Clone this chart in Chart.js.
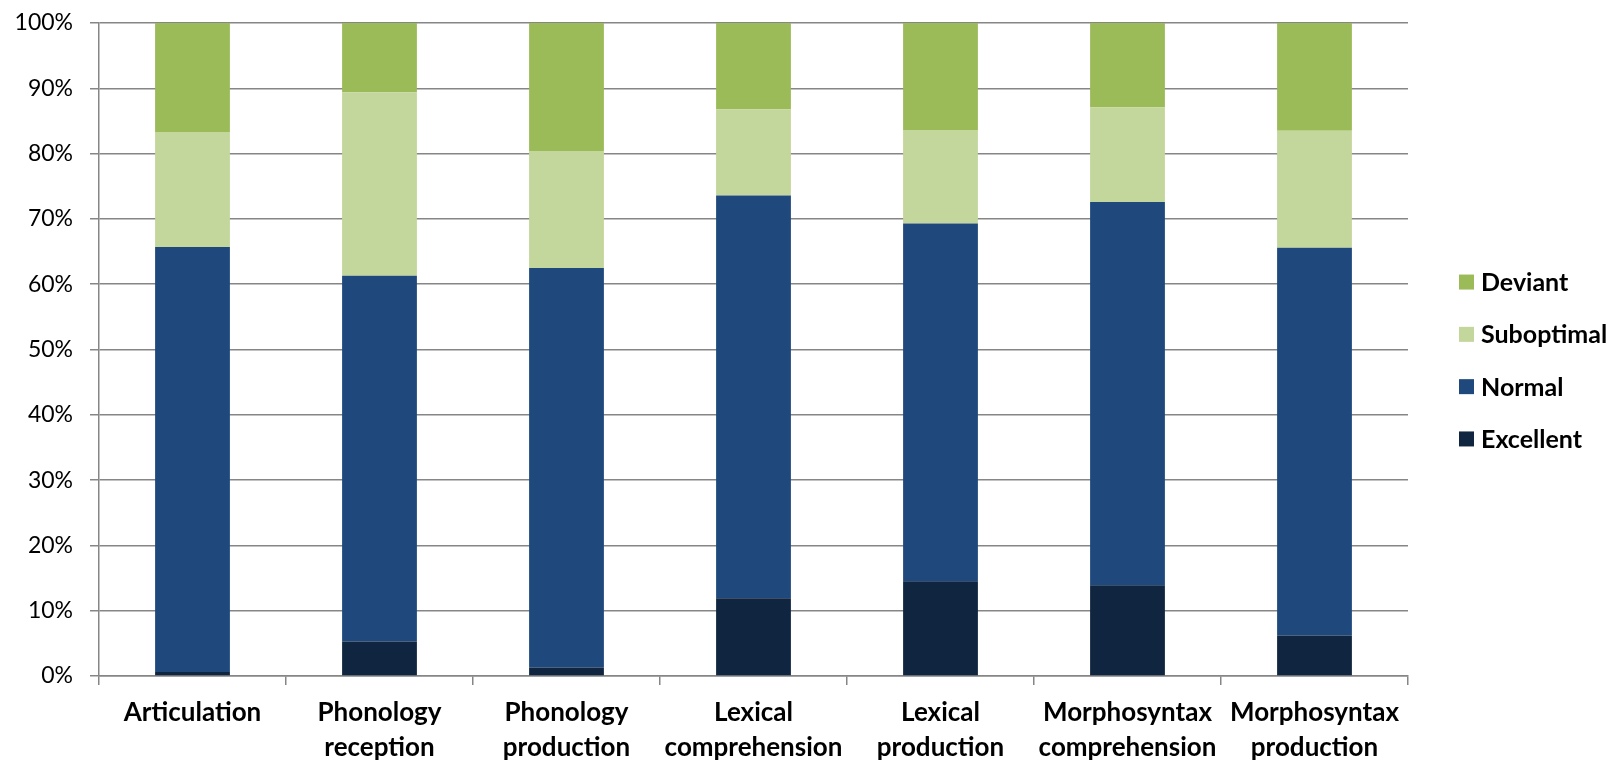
<!DOCTYPE html>
<html>
<head>
<meta charset="utf-8">
<script src="https://cdn.jsdelivr.net/npm/chart.js@4.4.1/dist/chart.umd.min.js"></script>
<style>
  html, body { margin: 0; padding: 0; background: #fff; }
  #wrap { width: 1612px; height: 760px; }
</style>
</head>
<body>
<div id="wrap"><canvas id="myChart" width="1612" height="760"></canvas></div>
<script>
// language domains (two-line labels)
var domains = [
    ["Articulation"],
    ["Phonology", "reception"],
    ["Phonology", "production"],
    ["Lexical", "comprehension"],
    ["Lexical", "production"],
    ["Morphosyntax", "comprehension"],
    ["Morphosyntax", "production"]
];

// share of children per rating, in percent
var excellent  = [0.6, 5.3, 1.3, 11.9, 14.5, 13.9, 6.2];
var normal     = [65.1, 56.0, 61.2, 61.7, 54.8, 58.7, 59.4];
var suboptimal = [17.6, 28.1, 17.9, 13.2, 14.3, 14.5, 17.9];
var deviant    = [16.7, 10.6, 19.6, 13.2, 16.4, 12.9, 16.5];

var yTicks = [0, 10, 20, 30, 40, 50, 60, 70, 80, 90, 100];

var gridColor = '#868686';

// legend on the right, top to bottom: Deviant .. Excellent
var sideLegend = {
    id: 'sideLegend',
    afterDraw: function(chart) {
        var c = chart.ctx;
        var area = chart.chartArea;
        var sets = chart.data.datasets.slice().reverse();
        var step = 52.3;
        var y0 = (area.top + area.bottom) / 2 + 11 - step * (sets.length - 1) / 2;
        c.save();
        c.font = 'bold 25px Lato';
        c.textBaseline = 'middle';
        c.textAlign = 'left';
        sets.forEach(function(ds, i) {
            var y = y0 + i * step;
            c.fillStyle = ds.backgroundColor;
            c.fillRect(area.right + 51, y - 7.5, 15, 15);
            c.fillStyle = '#000';
            c.fillText(ds.label, area.right + 73, y + 1);
        });
        c.restore();
    }
};

var ctx = document.getElementById("myChart").getContext('2d');
var chart = new Chart(ctx, {
    type: 'bar',
    data: {
        labels: domains,
        datasets: [
            { label: 'Excellent',  data: excellent,  backgroundColor: '#10253f' },
            { label: 'Normal',     data: normal,     backgroundColor: '#1f497d' },
            { label: 'Suboptimal', data: suboptimal, backgroundColor: '#c3d69b' },
            { label: 'Deviant',    data: deviant,    backgroundColor: '#9bbb59' }
        ]
    },
    options: {
        responsive: false,
        animation: false,
        layout: { padding: { top: 23, right: 204, bottom: 0, left: 0 } },
        plugins: {
            legend: { display: false },
            tooltip: { enabled: false }
        },
        datasets: {
            bar: { categoryPercentage: 1.0, barPercentage: 0.4 }
        },
        scales: {
            x: {
                stacked: true,
                afterFit: function(scale) {
                    scale.height = 84;
                    scale.paddingLeft = 0;
                    scale.paddingRight = 0;
                },
                border: { color: gridColor, width: 1.5 },
                grid: {
                    offset: true,
                    drawOnChartArea: false,
                    drawTicks: true,
                    tickLength: 9,
                    color: gridColor,
                    lineWidth: 1.5
                },
                ticks: {
                    color: '#000',
                    padding: 10,
                    maxRotation: 0,
                    autoSkip: false,
                    font: { family: 'Lato', size: 26, weight: 'bold', lineHeight: 1.35 }
                }
            },
            y: {
                stacked: true,
                min: 0,
                max: 100,
                afterFit: function(scale) {
                    scale.width = 99;
                    scale.paddingTop = 0;
                    scale.paddingBottom = 0;
                },
                afterBuildTicks: function(scale) {
                    scale.ticks = yTicks.map(function(v) { return { value: v }; });
                },
                border: { color: gridColor, width: 1.5 },
                grid: {
                    color: gridColor,
                    lineWidth: 1.5,
                    drawTicks: true,
                    tickLength: 9
                },
                ticks: {
                    color: '#000',
                    padding: 17,
                    font: { family: 'Lato', size: 23 },
                    callback: function(v) { return v + '%'; }
                }
            }
        }
    },
    plugins: [sideLegend]
});
</script>
</body>
</html>
